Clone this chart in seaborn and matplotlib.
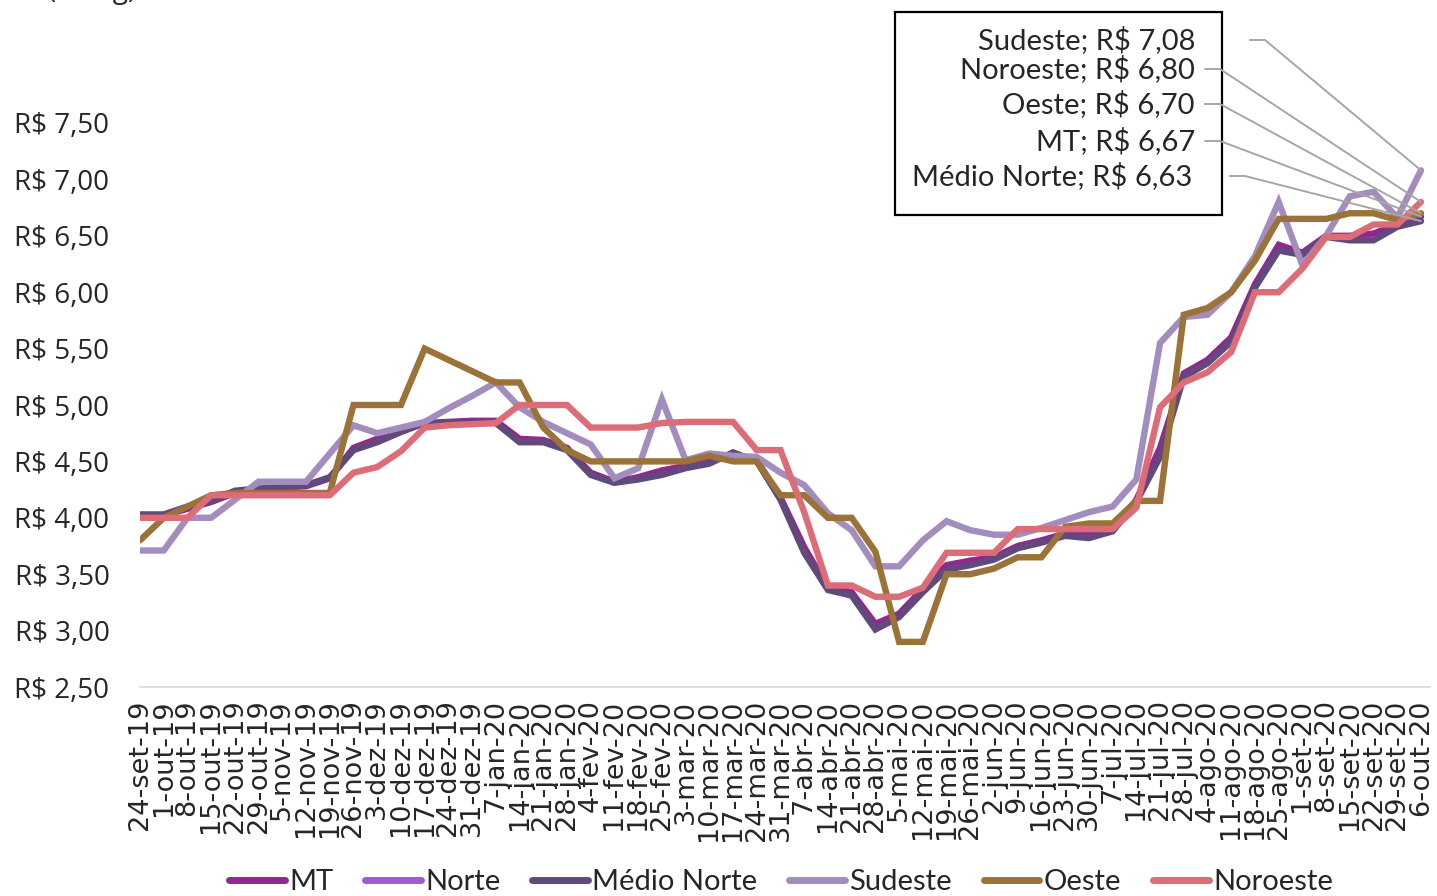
import numpy as np
import pandas as pd
import seaborn as sns
import matplotlib.pyplot as plt
from matplotlib.lines import Line2D
from matplotlib.patches import Rectangle

# semanas (24-set-19 ate 6-out-20)
datas = ['24-set-19', '1-out-19', '8-out-19', '15-out-19', '22-out-19', '29-out-19',
         '5-nov-19', '12-nov-19', '19-nov-19', '26-nov-19', '3-dez-19', '10-dez-19',
         '17-dez-19', '24-dez-19', '31-dez-19', '7-jan-20', '14-jan-20', '21-jan-20',
         '28-jan-20', '4-fev-20', '11-fev-20', '18-fev-20', '25-fev-20', '3-mar-20',
         '10-mar-20', '17-mar-20', '24-mar-20', '31-mar-20', '7-abr-20', '14-abr-20',
         '21-abr-20', '28-abr-20', '5-mai-20', '12-mai-20', '19-mai-20', '26-mai-20',
         '2-jun-20', '9-jun-20', '16-jun-20', '23-jun-20', '30-jun-20', '7-jul-20',
         '14-jul-20', '21-jul-20', '28-jul-20', '4-ago-20', '11-ago-20', '18-ago-20',
         '25-ago-20', '1-set-20', '8-set-20', '15-set-20', '22-set-20', '29-set-20',
         '6-out-20']

mt = [4.02, 4.02, 4.08, 4.14, 4.22, 4.25, 4.27, 4.28, 4.35, 4.62, 4.70, 4.78, 4.84, 4.85,
      4.86, 4.86, 4.70, 4.69, 4.62, 4.40, 4.32, 4.36, 4.42, 4.46, 4.50, 4.56, 4.51, 4.18,
      3.74, 3.38, 3.34, 3.06, 3.15, 3.37, 3.58, 3.62, 3.65, 3.75, 3.80, 3.86, 3.86, 3.90,
      4.16, 4.62, 5.28, 5.40, 5.60, 6.07, 6.42, 6.35, 6.50, 6.50, 6.52, 6.60, 6.67]
norte = [np.nan] * len(datas)  # sem dados no grafico
medio_norte = [4.03, 4.03, 4.10, 4.15, 4.24, 4.26, 4.27, 4.29, 4.36, 4.60, 4.67, 4.76, 4.84,
               4.84, 4.84, 4.84, 4.67, 4.67, 4.60, 4.38, 4.31, 4.34, 4.38, 4.44, 4.48, 4.58,
               4.50, 4.16, 3.69, 3.36, 3.31, 3.01, 3.12, 3.34, 3.54, 3.58, 3.63, 3.73, 3.78,
               3.84, 3.82, 3.88, 4.14, 4.54, 5.25, 5.37, 5.56, 6.04, 6.37, 6.33, 6.49, 6.46,
               6.46, 6.58, 6.63]
sudeste = [3.71, 3.71, 4.00, 4.00, 4.16, 4.32, 4.32, 4.32, 4.57, 4.82, 4.75, 4.80, 4.85, 4.97,
           5.08, 5.20, 4.98, 4.85, 4.75, 4.65, 4.35, 4.44, 5.05, 4.51, 4.57, 4.55, 4.54, 4.40,
           4.29, 4.04, 3.89, 3.57, 3.57, 3.80, 3.97, 3.89, 3.85, 3.85, 3.91, 3.98, 4.05, 4.10,
           4.34, 5.55, 5.78, 5.80, 6.00, 6.32, 6.80, 6.24, 6.50, 6.85, 6.89, 6.66, 7.08]
oeste = [3.80, 4.00, 4.10, 4.20, 4.22, 4.22, 4.22, 4.22, 4.22, 5.00, 5.00, 5.00, 5.50, 5.40,
         5.30, 5.20, 5.20, 4.80, 4.60, 4.50, 4.50, 4.50, 4.50, 4.50, 4.55, 4.50, 4.50, 4.20,
         4.20, 4.00, 4.00, 3.70, 2.90, 2.90, 3.50, 3.50, 3.55, 3.65, 3.65, 3.92, 3.95, 3.95,
         4.15, 4.15, 5.80, 5.86, 6.00, 6.28, 6.65, 6.65, 6.65, 6.70, 6.70, 6.64, 6.70]
noroeste = [4.00, 4.00, 4.00, 4.20, 4.20, 4.20, 4.20, 4.20, 4.20, 4.40, 4.45, 4.59, 4.80, 4.82,
            4.83, 4.84, 5.00, 5.00, 5.00, 4.80, 4.80, 4.80, 4.84, 4.85, 4.85, 4.85, 4.60, 4.60,
            4.05, 3.40, 3.40, 3.30, 3.30, 3.38, 3.69, 3.69, 3.69, 3.90, 3.90, 3.90, 3.90, 3.90,
            4.09, 4.98, 5.20, 5.29, 5.47, 6.00, 6.00, 6.21, 6.49, 6.49, 6.60, 6.60, 6.80]

nomes = ['MT', 'Norte', 'Médio Norte', 'Sudeste', 'Oeste', 'Noroeste']
series = [mt, norte, medio_norte, sudeste, oeste, noroeste]
cores = ['#92278F', '#9D5BD2', '#604A7B', '#A38CBE', '#9B7338', '#DC6C77']

yticks = [2.5, 3.0, 3.5, 4.0, 4.5, 5.0, 5.5, 6.0, 6.5, 7.0, 7.5]

# rotulos da caixa (ordem da caixa)
rotulos = ['Sudeste', 'Noroeste', 'Oeste', 'MT', 'Médio Norte']

def reais(v):
    return 'R$ ' + f'{v:.2f}'.replace('.', ',')

sns.set_style('white')
plt.rcParams['font.family'] = ['Lato', 'DejaVu Sans']

W, H = 1437, 896
fig = plt.figure(figsize=(W / 100, H / 100), dpi=100)
ax = fig.add_axes([140 / W, 1 - 687 / H, (1430 - 140) / W, (687 - 123) / H])

x = np.arange(len(datas))
for nome, vals, cor in zip(nomes, series, cores):
    v = np.array(vals, dtype=float)
    if np.all(np.isnan(v)):
        continue
    sns.lineplot(x=x, y=v, color=cor, linewidth=4.6, ax=ax, solid_joinstyle='miter')

ax.set_xlim(0, 54 * (1430 - 140) / (1421 - 140))
ax.set_ylim(2.5, 7.5)
ax.set_yticks(yticks)
ax.set_yticklabels([reais(v) for v in yticks], fontfamily='Open Sans', fontsize=20)
ax.set_xticks(x)
ax.set_xticklabels(datas, rotation=90, fontfamily='DejaVu Sans', fontsize=19.5, va='top')
ax.tick_params(axis='y', length=0, pad=22)
ax.tick_params(axis='x', length=6, width=1, color='#D9D9D9', pad=3)
for s in ['top', 'right', 'left']:
    ax.spines[s].set_visible(False)
ax.spines['bottom'].set_color('#D9D9D9')
ax.spines['bottom'].set_linewidth(1.2)
ax.set_xlabel('')
ax.set_ylabel('')

# legenda
handles = [Line2D([], [], color=c, linewidth=5, solid_capstyle='round') for c in cores]
fig.legend(handles, nomes, loc='center', bbox_to_anchor=(781 / W, 1 - 882 / H), ncol=6,
           frameon=False, fontsize=21, handlelength=1.9, handletextpad=0.15,
           columnspacing=1.1)

# caixa de rotulos
fig.patches.append(Rectangle((895 / W, 1 - 215 / H), (1222 - 895) / W, (215 - 12) / H,
                             transform=fig.transFigure, facecolor='white',
                             edgecolor='black', linewidth=1.6, zorder=5))
ultimo = dict(zip(nomes, [s[-1] for s in series]))
ys_txt = [40, 69, 104, 141, 176]
dir_txt = [1195, 1195, 1195, 1195, 1192]
ini_linha = [1250, 1205, 1205, 1205, 1230]
inv = fig.transFigure.inverted()
for nome, yt, xr, x0 in zip(rotulos, ys_txt, dir_txt, ini_linha):
    v = ultimo[nome]
    fig.text(xr / W, 1 - yt / H, f'{nome}; {reais(v)}', ha='right', va='center',
             fontsize=21, zorder=6)
    px, py = inv.transform(ax.transData.transform((len(datas) - 1, v)))
    fig.lines.append(Line2D([x0 / W, (x0 + 15) / W, px], [1 - yt / H, 1 - yt / H, py],
                            transform=fig.transFigure, color='#A6A6A6', linewidth=1.4,
                            zorder=7))

# titulo cortado no topo
fig.text(137 / W, 1 + 2 / H, '(R$/kg)', ha='right', va='baseline',
         fontfamily='Open Sans', fontsize=20)

fig.savefig('out.png', dpi=100)
